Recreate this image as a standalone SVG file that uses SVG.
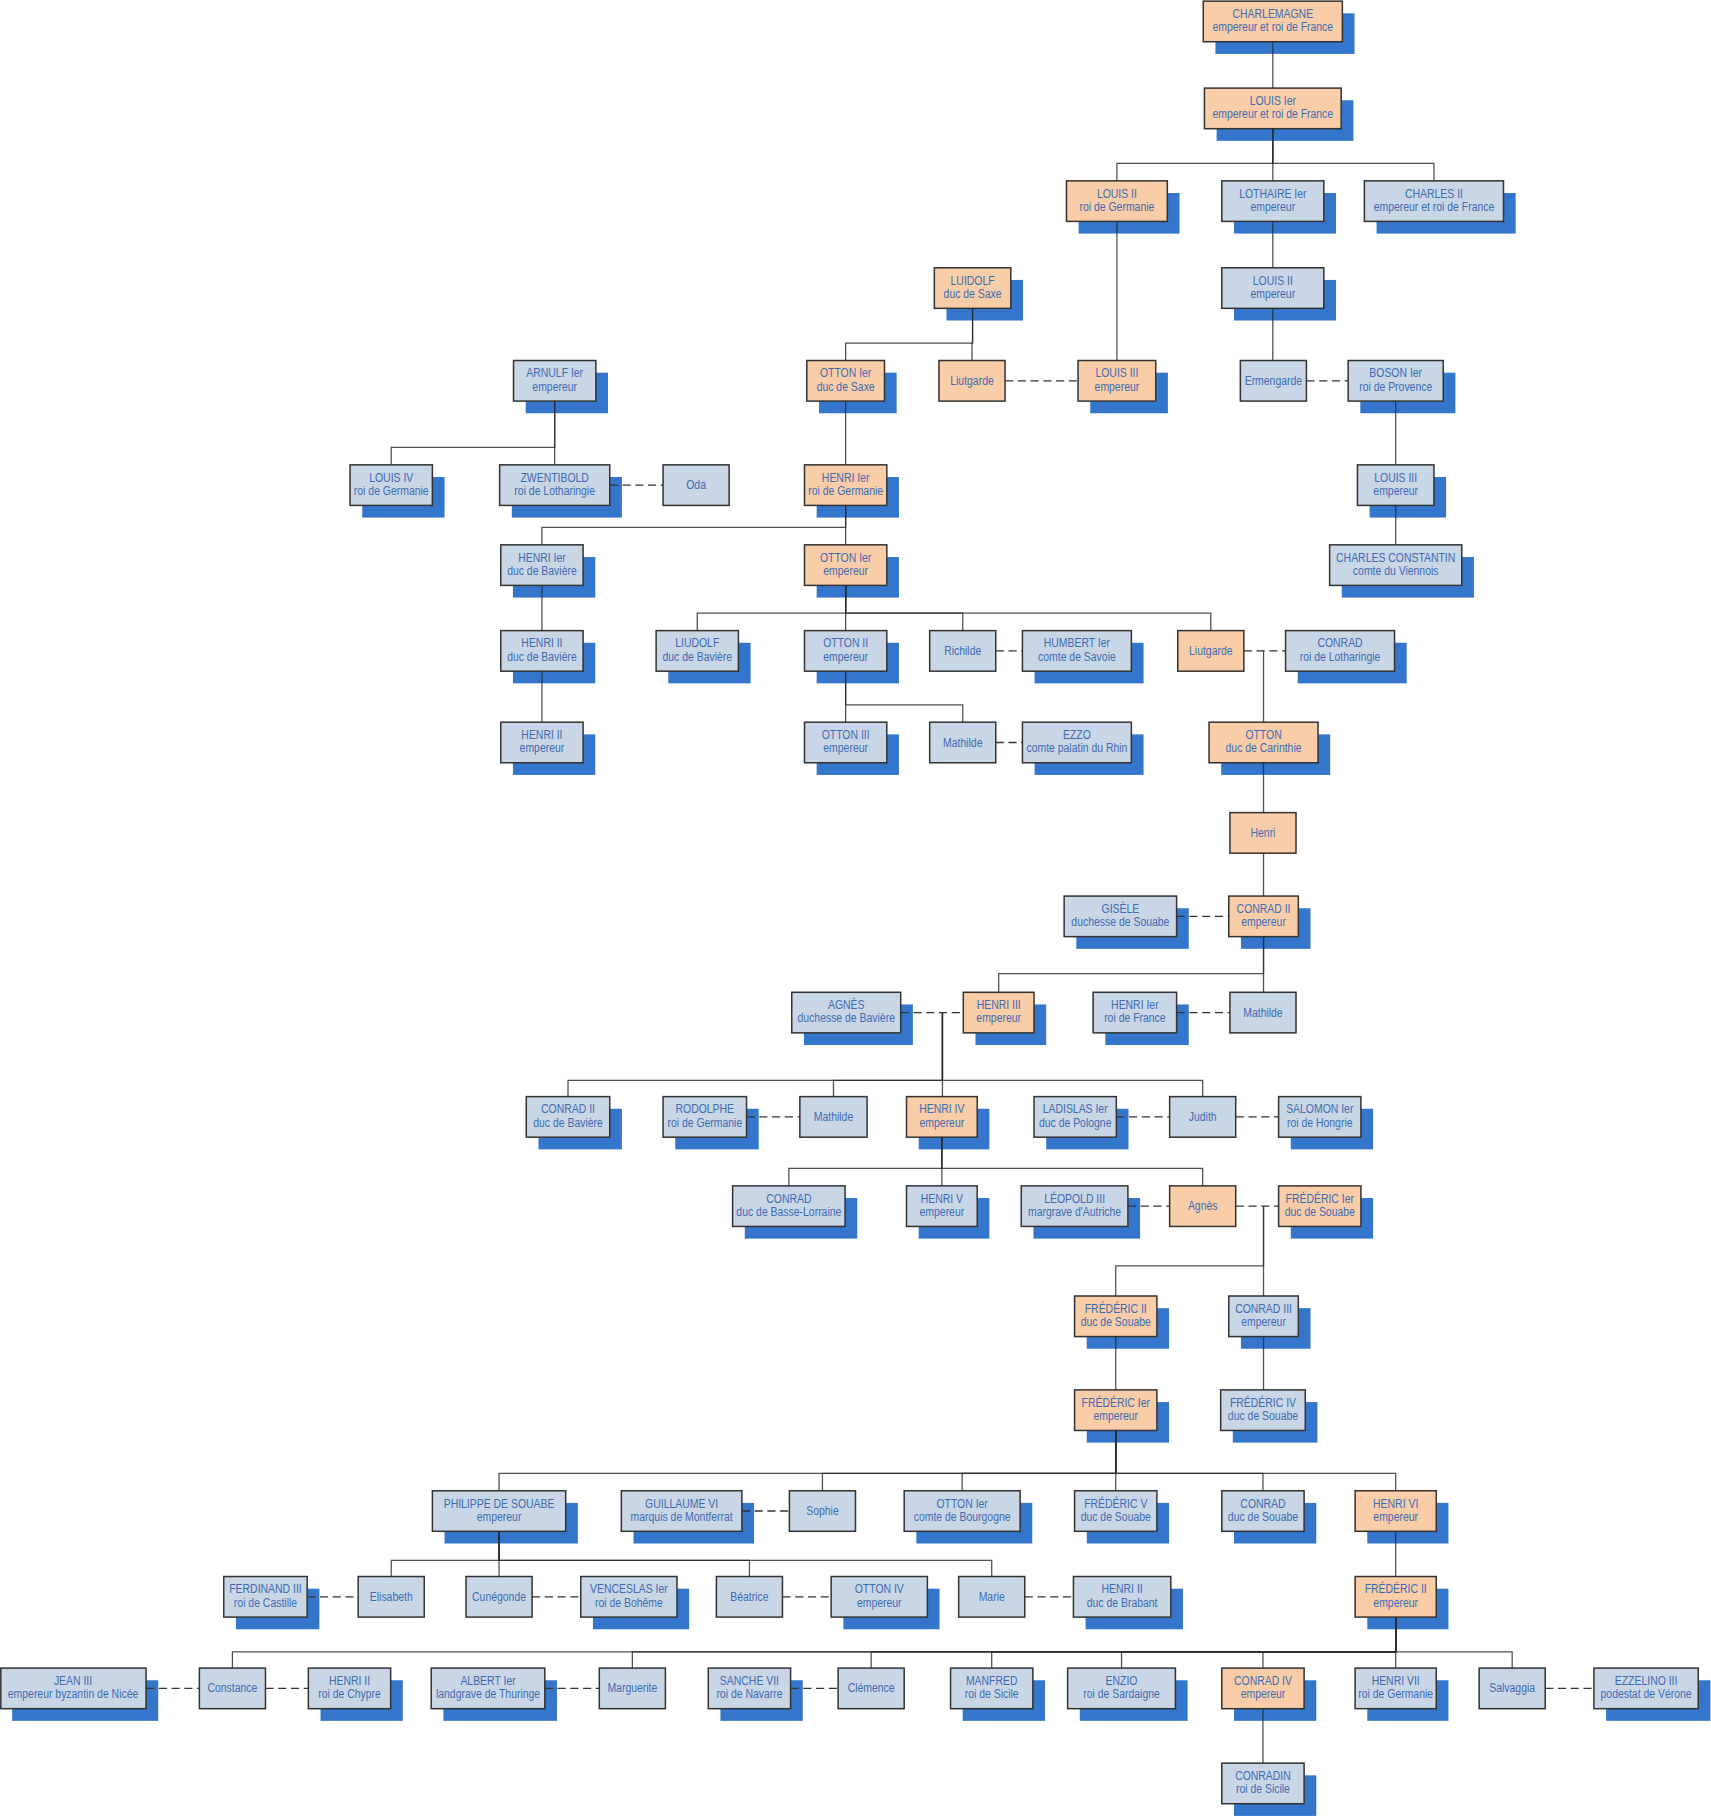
<svg xmlns="http://www.w3.org/2000/svg" width="1711" height="1818" viewBox="0 0 1711 1818">
<style>
.sh{fill:#3576cd}
.bo{fill:#f9cda8;stroke:#333;stroke-width:1.3}
.bb{fill:#c9d6e6;stroke:#333;stroke-width:1.3}
.t{font-family:"Liberation Sans",Arial,sans-serif;font-size:10.6px;fill:#3d6bb3;text-anchor:middle}
.c{fill:none;stroke:#2a2a2a;stroke-opacity:.82;stroke-width:1.1}
.m{fill:none;stroke:#333;stroke-width:1.15;stroke-dasharray:7 4}
</style>
<rect width="1711" height="1818" fill="#fff"/>
<g transform="scale(1.15921)">
<g id="nodes">
<g id="n01"><rect class="sh" x="1048.5" y="11.5" width="120" height="35"/><rect class="bo" x="1038" y="1" width="120" height="35"/><text class="t" transform="matrix(.85 0 0 1 1098 0)"><tspan x="0" y="15.5">CHARLEMAGNE</tspan><tspan x="0" y="27">empereur et roi de France</tspan></text></g>
<g id="n02"><rect class="sh" x="1049.5" y="86.5" width="118" height="35"/><rect class="bo" x="1039" y="76" width="118" height="35"/><text class="t" transform="matrix(.85 0 0 1 1098 0)"><tspan x="0" y="90.5">LOUIS Ier</tspan><tspan x="0" y="102">empereur et roi de France</tspan></text></g>
<g id="n03"><rect class="sh" x="930.5" y="166.5" width="87" height="35"/><rect class="bo" x="920" y="156" width="87" height="35"/><text class="t" transform="matrix(.85 0 0 1 963.5 0)"><tspan x="0" y="170.5">LOUIS II</tspan><tspan x="0" y="182">roi de Germanie</tspan></text></g>
<g id="n04"><rect class="sh" x="1064.5" y="166.5" width="88" height="35"/><rect class="bb" x="1054" y="156" width="88" height="35"/><text class="t" transform="matrix(.85 0 0 1 1098 0)"><tspan x="0" y="170.5">LOTHAIRE Ier</tspan><tspan x="0" y="182">empereur</tspan></text></g>
<g id="n05"><rect class="sh" x="1187.5" y="166.5" width="120" height="35"/><rect class="bb" x="1177" y="156" width="120" height="35"/><text class="t" transform="matrix(.85 0 0 1 1237 0)"><tspan x="0" y="170.5">CHARLES II</tspan><tspan x="0" y="182">empereur et roi de France</tspan></text></g>
<g id="n06"><rect class="sh" x="816.5" y="241.5" width="66" height="35"/><rect class="bo" x="806" y="231" width="66" height="35"/><text class="t" transform="matrix(.85 0 0 1 839 0)"><tspan x="0" y="245.5">LUIDOLF</tspan><tspan x="0" y="257">duc de Saxe</tspan></text></g>
<g id="n07"><rect class="sh" x="1064.5" y="241.5" width="88" height="35"/><rect class="bb" x="1054" y="231" width="88" height="35"/><text class="t" transform="matrix(.85 0 0 1 1098 0)"><tspan x="0" y="245.5">LOUIS II</tspan><tspan x="0" y="257">empereur</tspan></text></g>
<g id="n08"><rect class="sh" x="453.5" y="321.5" width="71" height="35"/><rect class="bb" x="443" y="311" width="71" height="35"/><text class="t" transform="matrix(.85 0 0 1 478.5 0)"><tspan x="0" y="325.5">ARNULF Ier</tspan><tspan x="0" y="337">empereur</tspan></text></g>
<g id="n09"><rect class="sh" x="706.5" y="321.5" width="67" height="35"/><rect class="bo" x="696" y="311" width="67" height="35"/><text class="t" transform="matrix(.85 0 0 1 729.5 0)"><tspan x="0" y="325.5">OTTON Ier</tspan><tspan x="0" y="337">duc de Saxe</tspan></text></g>
<g id="n10"><rect class="bo" x="810" y="311" width="57" height="35"/><text class="t" transform="matrix(.85 0 0 1 838.5 0)"><tspan x="0" y="332">Liutgarde</tspan></text></g>
<g id="n11"><rect class="sh" x="940.5" y="321.5" width="67" height="35"/><rect class="bo" x="930" y="311" width="67" height="35"/><text class="t" transform="matrix(.85 0 0 1 963.5 0)"><tspan x="0" y="325.5">LOUIS III</tspan><tspan x="0" y="337">empereur</tspan></text></g>
<g id="n12"><rect class="bb" x="1070" y="311" width="57" height="35"/><text class="t" transform="matrix(.85 0 0 1 1098.5 0)"><tspan x="0" y="332">Ermengarde</tspan></text></g>
<g id="n13"><rect class="sh" x="1173.5" y="321.5" width="82" height="35"/><rect class="bb" x="1163" y="311" width="82" height="35"/><text class="t" transform="matrix(.85 0 0 1 1204 0)"><tspan x="0" y="325.5">BOSON Ier</tspan><tspan x="0" y="337">roi de Provence</tspan></text></g>
<g id="n14"><rect class="sh" x="312.5" y="411.5" width="71" height="35"/><rect class="bb" x="302" y="401" width="71" height="35"/><text class="t" transform="matrix(.85 0 0 1 337.5 0)"><tspan x="0" y="415.5">LOUIS IV</tspan><tspan x="0" y="427">roi de Germanie</tspan></text></g>
<g id="n15"><rect class="sh" x="441.5" y="411.5" width="95" height="35"/><rect class="bb" x="431" y="401" width="95" height="35"/><text class="t" transform="matrix(.85 0 0 1 478.5 0)"><tspan x="0" y="415.5">ZWENTIBOLD</tspan><tspan x="0" y="427">roi de Lotharingie</tspan></text></g>
<g id="n16"><rect class="bb" x="572" y="401" width="57" height="35"/><text class="t" transform="matrix(.85 0 0 1 600.5 0)"><tspan x="0" y="422">Oda</tspan></text></g>
<g id="n17"><rect class="sh" x="704.5" y="411.5" width="71" height="35"/><rect class="bo" x="694" y="401" width="71" height="35"/><text class="t" transform="matrix(.85 0 0 1 729.5 0)"><tspan x="0" y="415.5">HENRI Ier</tspan><tspan x="0" y="427">roi de Germanie</tspan></text></g>
<g id="n18"><rect class="sh" x="1181.5" y="411.5" width="66" height="35"/><rect class="bb" x="1171" y="401" width="66" height="35"/><text class="t" transform="matrix(.85 0 0 1 1204 0)"><tspan x="0" y="415.5">LOUIS III</tspan><tspan x="0" y="427">empereur</tspan></text></g>
<g id="n19"><rect class="sh" x="442.5" y="480.5" width="71" height="35"/><rect class="bb" x="432" y="470" width="71" height="35"/><text class="t" transform="matrix(.85 0 0 1 467.5 0)"><tspan x="0" y="484.5">HENRI Ier</tspan><tspan x="0" y="496">duc de Bavière</tspan></text></g>
<g id="n20"><rect class="sh" x="704.5" y="480.5" width="71" height="35"/><rect class="bo" x="694" y="470" width="71" height="35"/><text class="t" transform="matrix(.85 0 0 1 729.5 0)"><tspan x="0" y="484.5">OTTON Ier</tspan><tspan x="0" y="496">empereur</tspan></text></g>
<g id="n21"><rect class="sh" x="1157.5" y="480.5" width="114" height="35"/><rect class="bb" x="1147" y="470" width="114" height="35"/><text class="t" transform="matrix(.85 0 0 1 1204 0)"><tspan x="0" y="484.5">CHARLES CONSTANTIN</tspan><tspan x="0" y="496">comte du Viennois</tspan></text></g>
<g id="n22"><rect class="sh" x="442.5" y="554.5" width="71" height="35"/><rect class="bb" x="432" y="544" width="71" height="35"/><text class="t" transform="matrix(.85 0 0 1 467.5 0)"><tspan x="0" y="558.5">HENRI II</tspan><tspan x="0" y="570">duc de Bavière</tspan></text></g>
<g id="n23"><rect class="sh" x="576.5" y="554.5" width="71" height="35"/><rect class="bb" x="566" y="544" width="71" height="35"/><text class="t" transform="matrix(.85 0 0 1 601.5 0)"><tspan x="0" y="558.5">LIUDOLF</tspan><tspan x="0" y="570">duc de Bavière</tspan></text></g>
<g id="n24"><rect class="sh" x="704.5" y="554.5" width="71" height="35"/><rect class="bb" x="694" y="544" width="71" height="35"/><text class="t" transform="matrix(.85 0 0 1 729.5 0)"><tspan x="0" y="558.5">OTTON II</tspan><tspan x="0" y="570">empereur</tspan></text></g>
<g id="n25"><rect class="bb" x="802" y="544" width="57" height="35"/><text class="t" transform="matrix(.85 0 0 1 830.5 0)"><tspan x="0" y="565">Richilde</tspan></text></g>
<g id="n26"><rect class="sh" x="892.5" y="554.5" width="94" height="35"/><rect class="bb" x="882" y="544" width="94" height="35"/><text class="t" transform="matrix(.85 0 0 1 929 0)"><tspan x="0" y="558.5">HUMBERT Ier</tspan><tspan x="0" y="570">comte de Savoie</tspan></text></g>
<g id="n27"><rect class="bo" x="1016" y="544" width="57" height="35"/><text class="t" transform="matrix(.85 0 0 1 1044.5 0)"><tspan x="0" y="565">Liutgarde</tspan></text></g>
<g id="n28"><rect class="sh" x="1119.5" y="554.5" width="94" height="35"/><rect class="bb" x="1109" y="544" width="94" height="35"/><text class="t" transform="matrix(.85 0 0 1 1156 0)"><tspan x="0" y="558.5">CONRAD</tspan><tspan x="0" y="570">roi de Lotharingie</tspan></text></g>
<g id="n29"><rect class="sh" x="442.5" y="633.5" width="71" height="35"/><rect class="bb" x="432" y="623" width="71" height="35"/><text class="t" transform="matrix(.85 0 0 1 467.5 0)"><tspan x="0" y="637.5">HENRI II</tspan><tspan x="0" y="649">empereur</tspan></text></g>
<g id="n30"><rect class="sh" x="704.5" y="633.5" width="71" height="35"/><rect class="bb" x="694" y="623" width="71" height="35"/><text class="t" transform="matrix(.85 0 0 1 729.5 0)"><tspan x="0" y="637.5">OTTON III</tspan><tspan x="0" y="649">empereur</tspan></text></g>
<g id="n31"><rect class="bb" x="802" y="623" width="57" height="35"/><text class="t" transform="matrix(.85 0 0 1 830.5 0)"><tspan x="0" y="644">Mathilde</tspan></text></g>
<g id="n32"><rect class="sh" x="892.5" y="633.5" width="94" height="35"/><rect class="bb" x="882" y="623" width="94" height="35"/><text class="t" transform="matrix(.85 0 0 1 929 0)"><tspan x="0" y="637.5">EZZO</tspan><tspan x="0" y="649">comte palatin du Rhin</tspan></text></g>
<g id="n33"><rect class="sh" x="1053.5" y="633.5" width="94" height="35"/><rect class="bo" x="1043" y="623" width="94" height="35"/><text class="t" transform="matrix(.85 0 0 1 1090 0)"><tspan x="0" y="637.5">OTTON</tspan><tspan x="0" y="649">duc de Carinthie</tspan></text></g>
<g id="n34"><rect class="bo" x="1061" y="701" width="57" height="35"/><text class="t" transform="matrix(.85 0 0 1 1089.5 0)"><tspan x="0" y="722">Henri</tspan></text></g>
<g id="n35"><rect class="sh" x="928.5" y="783.5" width="97" height="35"/><rect class="bb" x="918" y="773" width="97" height="35"/><text class="t" transform="matrix(.85 0 0 1 966.5 0)"><tspan x="0" y="787.5">GISÈLE</tspan><tspan x="0" y="799">duchesse de Souabe</tspan></text></g>
<g id="n36"><rect class="sh" x="1070.5" y="783.5" width="60" height="35"/><rect class="bo" x="1060" y="773" width="60" height="35"/><text class="t" transform="matrix(.85 0 0 1 1090 0)"><tspan x="0" y="787.5">CONRAD II</tspan><tspan x="0" y="799">empereur</tspan></text></g>
<g id="n37"><rect class="sh" x="693.5" y="866.5" width="94" height="35"/><rect class="bb" x="683" y="856" width="94" height="35"/><text class="t" transform="matrix(.85 0 0 1 730 0)"><tspan x="0" y="870.5">AGNÈS</tspan><tspan x="0" y="882">duchesse de Bavière</tspan></text></g>
<g id="n38"><rect class="sh" x="841.5" y="866.5" width="61" height="35"/><rect class="bo" x="831" y="856" width="61" height="35"/><text class="t" transform="matrix(.85 0 0 1 861.5 0)"><tspan x="0" y="870.5">HENRI III</tspan><tspan x="0" y="882">empereur</tspan></text></g>
<g id="n39"><rect class="sh" x="953.5" y="866.5" width="72" height="35"/><rect class="bb" x="943" y="856" width="72" height="35"/><text class="t" transform="matrix(.85 0 0 1 979 0)"><tspan x="0" y="870.5">HENRI Ier</tspan><tspan x="0" y="882">roi de France</tspan></text></g>
<g id="n40"><rect class="bb" x="1061" y="856" width="57" height="35"/><text class="t" transform="matrix(.85 0 0 1 1089.5 0)"><tspan x="0" y="877">Mathilde</tspan></text></g>
<g id="n41"><rect class="sh" x="464.5" y="956.5" width="72" height="35"/><rect class="bb" x="454" y="946" width="72" height="35"/><text class="t" transform="matrix(.85 0 0 1 490 0)"><tspan x="0" y="960.5">CONRAD II</tspan><tspan x="0" y="972">duc de Bavière</tspan></text></g>
<g id="n42"><rect class="sh" x="582.5" y="956.5" width="72" height="35"/><rect class="bb" x="572" y="946" width="72" height="35"/><text class="t" transform="matrix(.85 0 0 1 608 0)"><tspan x="0" y="960.5">RODOLPHE</tspan><tspan x="0" y="972">roi de Germanie</tspan></text></g>
<g id="n43"><rect class="bb" x="690" y="946" width="58" height="35"/><text class="t" transform="matrix(.85 0 0 1 719 0)"><tspan x="0" y="967">Mathilde</tspan></text></g>
<g id="n44"><rect class="sh" x="792.5" y="956.5" width="61" height="35"/><rect class="bo" x="782" y="946" width="61" height="35"/><text class="t" transform="matrix(.85 0 0 1 812.5 0)"><tspan x="0" y="960.5">HENRI IV</tspan><tspan x="0" y="972">empereur</tspan></text></g>
<g id="n45"><rect class="sh" x="902.5" y="956.5" width="71" height="35"/><rect class="bb" x="892" y="946" width="71" height="35"/><text class="t" transform="matrix(.85 0 0 1 927.5 0)"><tspan x="0" y="960.5">LADISLAS Ier</tspan><tspan x="0" y="972">duc de Pologne</tspan></text></g>
<g id="n46"><rect class="bb" x="1009" y="946" width="57" height="35"/><text class="t" transform="matrix(.85 0 0 1 1037.5 0)"><tspan x="0" y="967">Judith</tspan></text></g>
<g id="n47"><rect class="sh" x="1113.5" y="956.5" width="71" height="35"/><rect class="bb" x="1103" y="946" width="71" height="35"/><text class="t" transform="matrix(.85 0 0 1 1138.5 0)"><tspan x="0" y="960.5">SALOMON Ier</tspan><tspan x="0" y="972">roi de Hongrie</tspan></text></g>
<g id="n48"><rect class="sh" x="642.5" y="1033.5" width="97" height="35"/><rect class="bb" x="632" y="1023" width="97" height="35"/><text class="t" transform="matrix(.85 0 0 1 680.5 0)"><tspan x="0" y="1037.5">CONRAD</tspan><tspan x="0" y="1049">duc de Basse-Lorraine</tspan></text></g>
<g id="n49"><rect class="sh" x="792.5" y="1033.5" width="61" height="35"/><rect class="bb" x="782" y="1023" width="61" height="35"/><text class="t" transform="matrix(.85 0 0 1 812.5 0)"><tspan x="0" y="1037.5">HENRI V</tspan><tspan x="0" y="1049">empereur</tspan></text></g>
<g id="n50"><rect class="sh" x="891.5" y="1033.5" width="92" height="35"/><rect class="bb" x="881" y="1023" width="92" height="35"/><text class="t" transform="matrix(.85 0 0 1 927 0)"><tspan x="0" y="1037.5">LÉOPOLD III</tspan><tspan x="0" y="1049">margrave d'Autriche</tspan></text></g>
<g id="n51"><rect class="bo" x="1009" y="1023" width="57" height="35"/><text class="t" transform="matrix(.85 0 0 1 1037.5 0)"><tspan x="0" y="1044">Agnès</tspan></text></g>
<g id="n52"><rect class="sh" x="1113.5" y="1033.5" width="71" height="35"/><rect class="bo" x="1103" y="1023" width="71" height="35"/><text class="t" transform="matrix(.85 0 0 1 1138.5 0)"><tspan x="0" y="1037.5">FRÉDÉRIC Ier</tspan><tspan x="0" y="1049">duc de Souabe</tspan></text></g>
<g id="n53"><rect class="sh" x="937.5" y="1128.5" width="71" height="35"/><rect class="bo" x="927" y="1118" width="71" height="35"/><text class="t" transform="matrix(.85 0 0 1 962.5 0)"><tspan x="0" y="1132.5">FRÉDÉRIC II</tspan><tspan x="0" y="1144">duc de Souabe</tspan></text></g>
<g id="n54"><rect class="sh" x="1070.5" y="1128.5" width="60" height="35"/><rect class="bb" x="1060" y="1118" width="60" height="35"/><text class="t" transform="matrix(.85 0 0 1 1090 0)"><tspan x="0" y="1132.5">CONRAD III</tspan><tspan x="0" y="1144">empereur</tspan></text></g>
<g id="n55"><rect class="sh" x="937.5" y="1209.5" width="71" height="35"/><rect class="bo" x="927" y="1199" width="71" height="35"/><text class="t" transform="matrix(.85 0 0 1 962.5 0)"><tspan x="0" y="1213.5">FRÉDÉRIC Ier</tspan><tspan x="0" y="1225">empereur</tspan></text></g>
<g id="n56"><rect class="sh" x="1063.5" y="1209.5" width="73" height="35"/><rect class="bb" x="1053" y="1199" width="73" height="35"/><text class="t" transform="matrix(.85 0 0 1 1089.5 0)"><tspan x="0" y="1213.5">FRÉDÉRIC IV</tspan><tspan x="0" y="1225">duc de Souabe</tspan></text></g>
<g id="n57"><rect class="sh" x="383.5" y="1296.5" width="115" height="35"/><rect class="bb" x="373" y="1286" width="115" height="35"/><text class="t" transform="matrix(.85 0 0 1 430.5 0)"><tspan x="0" y="1300.5">PHILIPPE DE SOUABE</tspan><tspan x="0" y="1312">empereur</tspan></text></g>
<g id="n58"><rect class="sh" x="546.5" y="1296.5" width="104" height="35"/><rect class="bb" x="536" y="1286" width="104" height="35"/><text class="t" transform="matrix(.85 0 0 1 588 0)"><tspan x="0" y="1300.5">GUILLAUME VI</tspan><tspan x="0" y="1312">marquis de Montferrat</tspan></text></g>
<g id="n59"><rect class="bb" x="681" y="1286" width="57" height="35"/><text class="t" transform="matrix(.85 0 0 1 709.5 0)"><tspan x="0" y="1307">Sophie</tspan></text></g>
<g id="n60"><rect class="sh" x="790.5" y="1296.5" width="100" height="35"/><rect class="bb" x="780" y="1286" width="100" height="35"/><text class="t" transform="matrix(.85 0 0 1 830 0)"><tspan x="0" y="1300.5">OTTON Ier</tspan><tspan x="0" y="1312">comte de Bourgogne</tspan></text></g>
<g id="n61"><rect class="sh" x="937.5" y="1296.5" width="71" height="35"/><rect class="bb" x="927" y="1286" width="71" height="35"/><text class="t" transform="matrix(.85 0 0 1 962.5 0)"><tspan x="0" y="1300.5">FRÉDÉRIC V</tspan><tspan x="0" y="1312">duc de Souabe</tspan></text></g>
<g id="n62"><rect class="sh" x="1064.5" y="1296.5" width="71" height="35"/><rect class="bb" x="1054" y="1286" width="71" height="35"/><text class="t" transform="matrix(.85 0 0 1 1089.5 0)"><tspan x="0" y="1300.5">CONRAD</tspan><tspan x="0" y="1312">duc de Souabe</tspan></text></g>
<g id="n63"><rect class="sh" x="1179.5" y="1296.5" width="70" height="35"/><rect class="bo" x="1169" y="1286" width="70" height="35"/><text class="t" transform="matrix(.85 0 0 1 1204 0)"><tspan x="0" y="1300.5">HENRI VI</tspan><tspan x="0" y="1312">empereur</tspan></text></g>
<g id="n64"><rect class="sh" x="203.5" y="1370.5" width="72" height="35"/><rect class="bb" x="193" y="1360" width="72" height="35"/><text class="t" transform="matrix(.85 0 0 1 229 0)"><tspan x="0" y="1374.5">FERDINAND III</tspan><tspan x="0" y="1386">roi de Castille</tspan></text></g>
<g id="n65"><rect class="bb" x="309" y="1360" width="57" height="35"/><text class="t" transform="matrix(.85 0 0 1 337.5 0)"><tspan x="0" y="1381">Elisabeth</tspan></text></g>
<g id="n66"><rect class="bb" x="402" y="1360" width="57" height="35"/><text class="t" transform="matrix(.85 0 0 1 430.5 0)"><tspan x="0" y="1381">Cunégonde</tspan></text></g>
<g id="n67"><rect class="sh" x="511.5" y="1370.5" width="83" height="35"/><rect class="bb" x="501" y="1360" width="83" height="35"/><text class="t" transform="matrix(.85 0 0 1 542.5 0)"><tspan x="0" y="1374.5">VENCESLAS Ier</tspan><tspan x="0" y="1386">roi de Bohême</tspan></text></g>
<g id="n68"><rect class="bb" x="618" y="1360" width="57" height="35"/><text class="t" transform="matrix(.85 0 0 1 646.5 0)"><tspan x="0" y="1381">Béatrice</tspan></text></g>
<g id="n69"><rect class="sh" x="727.5" y="1370.5" width="83" height="35"/><rect class="bb" x="717" y="1360" width="83" height="35"/><text class="t" transform="matrix(.85 0 0 1 758.5 0)"><tspan x="0" y="1374.5">OTTON IV</tspan><tspan x="0" y="1386">empereur</tspan></text></g>
<g id="n70"><rect class="bb" x="827" y="1360" width="57" height="35"/><text class="t" transform="matrix(.85 0 0 1 855.5 0)"><tspan x="0" y="1381">Marie</tspan></text></g>
<g id="n71"><rect class="sh" x="936.5" y="1370.5" width="84" height="35"/><rect class="bb" x="926" y="1360" width="84" height="35"/><text class="t" transform="matrix(.85 0 0 1 968 0)"><tspan x="0" y="1374.5">HENRI II</tspan><tspan x="0" y="1386">duc de Brabant</tspan></text></g>
<g id="n72"><rect class="sh" x="1179.5" y="1370.5" width="70" height="35"/><rect class="bo" x="1169" y="1360" width="70" height="35"/><text class="t" transform="matrix(.85 0 0 1 1204 0)"><tspan x="0" y="1374.5">FRÉDÉRIC II</tspan><tspan x="0" y="1386">empereur</tspan></text></g>
<g id="n73"><rect class="sh" x="10.5" y="1449.5" width="126" height="35"/><rect class="bb" x="0.7" y="1439" width="125.3" height="35"/><text class="t" transform="matrix(.85 0 0 1 63 0)"><tspan x="0" y="1453.5">JEAN III</tspan><tspan x="0" y="1465">empereur byzantin de Nicée</tspan></text></g>
<g id="n74"><rect class="bb" x="172" y="1439" width="57" height="35"/><text class="t" transform="matrix(.85 0 0 1 200.5 0)"><tspan x="0" y="1460">Constance</tspan></text></g>
<g id="n75"><rect class="sh" x="276.5" y="1449.5" width="71" height="35"/><rect class="bb" x="266" y="1439" width="71" height="35"/><text class="t" transform="matrix(.85 0 0 1 301.5 0)"><tspan x="0" y="1453.5">HENRI II</tspan><tspan x="0" y="1465">roi de Chypre</tspan></text></g>
<g id="n76"><rect class="sh" x="382.5" y="1449.5" width="98" height="35"/><rect class="bb" x="372" y="1439" width="98" height="35"/><text class="t" transform="matrix(.85 0 0 1 421 0)"><tspan x="0" y="1453.5">ALBERT Ier</tspan><tspan x="0" y="1465">landgrave de Thuringe</tspan></text></g>
<g id="n77"><rect class="bb" x="517" y="1439" width="57" height="35"/><text class="t" transform="matrix(.85 0 0 1 545.5 0)"><tspan x="0" y="1460">Marguerite</tspan></text></g>
<g id="n78"><rect class="sh" x="621.5" y="1449.5" width="71" height="35"/><rect class="bb" x="611" y="1439" width="71" height="35"/><text class="t" transform="matrix(.85 0 0 1 646.5 0)"><tspan x="0" y="1453.5">SANCHE VII</tspan><tspan x="0" y="1465">roi de Navarre</tspan></text></g>
<g id="n79"><rect class="bb" x="723" y="1439" width="57" height="35"/><text class="t" transform="matrix(.85 0 0 1 751.5 0)"><tspan x="0" y="1460">Clémence</tspan></text></g>
<g id="n80"><rect class="sh" x="830.5" y="1449.5" width="71" height="35"/><rect class="bb" x="820" y="1439" width="71" height="35"/><text class="t" transform="matrix(.85 0 0 1 855.5 0)"><tspan x="0" y="1453.5">MANFRED</tspan><tspan x="0" y="1465">roi de Sicile</tspan></text></g>
<g id="n81"><rect class="sh" x="931.5" y="1449.5" width="93" height="35"/><rect class="bb" x="921" y="1439" width="93" height="35"/><text class="t" transform="matrix(.85 0 0 1 967.5 0)"><tspan x="0" y="1453.5">ENZIO</tspan><tspan x="0" y="1465">roi de Sardaigne</tspan></text></g>
<g id="n82"><rect class="sh" x="1064.5" y="1449.5" width="71" height="35"/><rect class="bo" x="1054" y="1439" width="71" height="35"/><text class="t" transform="matrix(.85 0 0 1 1089.5 0)"><tspan x="0" y="1453.5">CONRAD IV</tspan><tspan x="0" y="1465">empereur</tspan></text></g>
<g id="n83"><rect class="sh" x="1179.5" y="1449.5" width="70" height="35"/><rect class="bb" x="1169" y="1439" width="70" height="35"/><text class="t" transform="matrix(.85 0 0 1 1204 0)"><tspan x="0" y="1453.5">HENRI VII</tspan><tspan x="0" y="1465">roi de Germanie</tspan></text></g>
<g id="n84"><rect class="bb" x="1276" y="1439" width="57" height="35"/><text class="t" transform="matrix(.85 0 0 1 1304.5 0)"><tspan x="0" y="1460">Salvaggia</tspan></text></g>
<g id="n85"><rect class="sh" x="1385.5" y="1449.5" width="90" height="35"/><rect class="bb" x="1375" y="1439" width="90" height="35"/><text class="t" transform="matrix(.85 0 0 1 1420 0)"><tspan x="0" y="1453.5">EZZELINO III</tspan><tspan x="0" y="1465">podestat de Vérone</tspan></text></g>
<g id="n86"><rect class="sh" x="1064.5" y="1531.5" width="71" height="35"/><rect class="bb" x="1054" y="1521" width="71" height="35"/><text class="t" transform="matrix(.85 0 0 1 1089.5 0)"><tspan x="0" y="1535.5">CONRADIN</tspan><tspan x="0" y="1547">roi de Sicile</tspan></text></g>
</g>
<g id="connectors">
<path class="c" d="M1098 36V76"/>
<path class="c" d="M1098 111V141H963.5V156"/>
<path class="c" d="M1098 111V141V156"/>
<path class="c" d="M1098 111V141H1237V156"/>
<path class="c" d="M963.5 191V311"/>
<path class="c" d="M1098 191V231"/>
<path class="c" d="M1098 266V311"/>
<path class="c" d="M1204 346V401"/>
<path class="c" d="M1204 436V470"/>
<path class="c" d="M839 266V296H729.5V311"/>
<path class="c" d="M839 266V296H838.5V311"/>
<path class="c" d="M478.5 346V386H337.5V401"/>
<path class="c" d="M478.5 346V386V401"/>
<path class="c" d="M729.5 346V401"/>
<path class="c" d="M729.5 436V455H467.5V470"/>
<path class="c" d="M729.5 436V455V470"/>
<path class="c" d="M467.5 505V544"/>
<path class="c" d="M467.5 579V623"/>
<path class="c" d="M729.5 505V529H601.5V544"/>
<path class="c" d="M729.5 505V529V544"/>
<path class="c" d="M729.5 505V529H830.5V544"/>
<path class="c" d="M729.5 505V529H1044.5V544"/>
<path class="c" d="M729.5 579V608V623"/>
<path class="c" d="M729.5 579V608H830.5V623"/>
<path class="c" d="M1090 561.5V623"/>
<path class="c" d="M1090 658V701"/>
<path class="c" d="M1090 736V773"/>
<path class="c" d="M1090 808V840H861.5V856"/>
<path class="c" d="M1090 808V840V856"/>
<path class="c" d="M813 873.5V932H490V946"/>
<path class="c" d="M813 873.5V932H719V946"/>
<path class="c" d="M813 873.5V932V946"/>
<path class="c" d="M813 873.5V932H1037.5V946"/>
<path class="c" d="M812.5 981V1008H680.5V1023"/>
<path class="c" d="M812.5 981V1008V1023"/>
<path class="c" d="M812.5 981V1008H1037.5V1023"/>
<path class="c" d="M1090 1040.5V1092H962.5V1118"/>
<path class="c" d="M1090 1040.5V1092V1118"/>
<path class="c" d="M962.5 1153V1199"/>
<path class="c" d="M1090 1153V1199"/>
<path class="c" d="M962.5 1234V1271H430.5V1286"/>
<path class="c" d="M962.5 1234V1271H709.5V1286"/>
<path class="c" d="M962.5 1234V1271H830V1286"/>
<path class="c" d="M962.5 1234V1271V1286"/>
<path class="c" d="M962.5 1234V1271H1089.5V1286"/>
<path class="c" d="M962.5 1234V1271H1204V1286"/>
<path class="c" d="M430.5 1321V1346H337.5V1360"/>
<path class="c" d="M430.5 1321V1346V1360"/>
<path class="c" d="M430.5 1321V1346H646.5V1360"/>
<path class="c" d="M430.5 1321V1346H855.5V1360"/>
<path class="c" d="M1204 1321V1360"/>
<path class="c" d="M1204 1395V1425H200.5V1439"/>
<path class="c" d="M1204 1395V1425H545.5V1439"/>
<path class="c" d="M1204 1395V1425H751.5V1439"/>
<path class="c" d="M1204 1395V1425H855.5V1439"/>
<path class="c" d="M1204 1395V1425H967.5V1439"/>
<path class="c" d="M1204 1395V1425H1089.5V1439"/>
<path class="c" d="M1204 1395V1425V1439"/>
<path class="c" d="M1204 1395V1425H1304.5V1439"/>
<path class="c" d="M1089.5 1474V1521"/>
<path class="m" d="M867 328.5H930"/>
<path class="m" d="M1127 328.5H1163"/>
<path class="m" d="M526 418.5H572"/>
<path class="m" d="M859 561.5H882"/>
<path class="m" d="M1073 561.5H1109"/>
<path class="m" d="M859 640.5H882"/>
<path class="m" d="M1015 790.5H1060"/>
<path class="m" d="M777 873.5H831"/>
<path class="m" d="M1015 873.5H1061"/>
<path class="m" d="M644 963.5H690"/>
<path class="m" d="M963 963.5H1009"/>
<path class="m" d="M1066 963.5H1103"/>
<path class="m" d="M973 1040.5H1009"/>
<path class="m" d="M1066 1040.5H1103"/>
<path class="m" d="M640 1303.5H681"/>
<path class="m" d="M265 1377.5H309"/>
<path class="m" d="M459 1377.5H501"/>
<path class="m" d="M675 1377.5H717"/>
<path class="m" d="M884 1377.5H926"/>
<path class="m" d="M126 1456.5H172"/>
<path class="m" d="M229 1456.5H266"/>
<path class="m" d="M470 1456.5H517"/>
<path class="m" d="M682 1456.5H723"/>
<path class="m" d="M1333 1456.5H1375"/>
</g>
</g>
</svg>
